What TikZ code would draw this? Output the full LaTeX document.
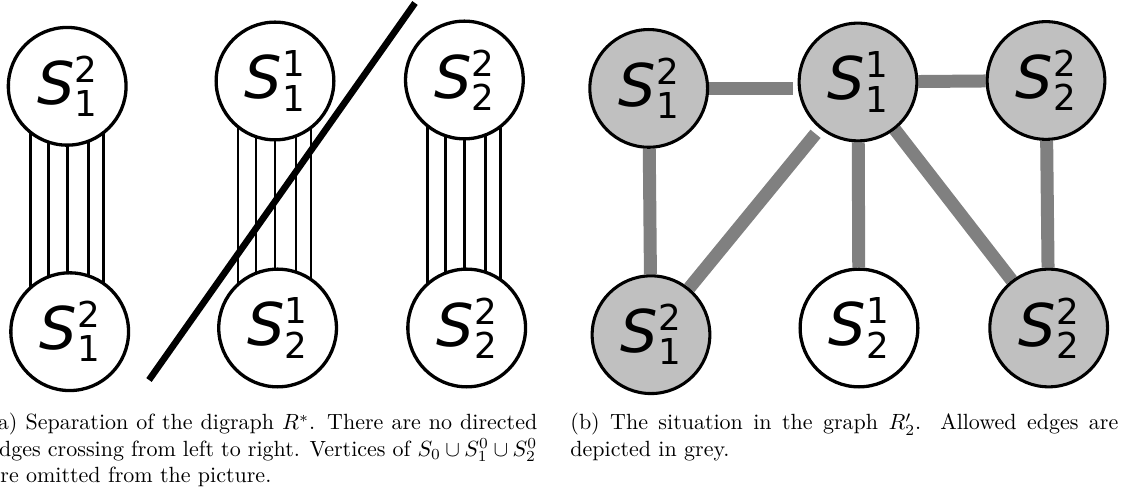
\documentclass[tikz,border=0pt]{standalone}
\usepackage{fontspec}
\newfontfamily\setfont{DejaVu Sans}
\usetikzlibrary{backgrounds,calc}
\definecolor{nodegrey}{RGB}{192,192,192}
\definecolor{edgegrey}{RGB}{128,128,128}
\newcommand{\Sset}[2]{{\setfont\fontsize{26.8pt}{30pt}\selectfont\textit{S}\fontsize{16.2pt}{18pt}\selectfont\rlap{\raisebox{10pt}{#1}}\raisebox{-5.5pt}{#2}}}

\begin{document}
\begin{tikzpicture}[x=0.4545pt,y=-0.4545pt,
  set/.style={circle,draw,line width=1.5pt,fill=white,minimum size=53.5pt,inner sep=0pt},
  allowed/.style={set,fill=nodegrey,line width=1.4pt},
  arc/.style={line width=1.3pt},
  cut/.style={line width=3pt},
  greyedge/.style={edgegrey,line width=5.9pt},
  caption/.style={text width=249pt,align=justify,inner sep=0pt,font=\normalsize}]
\useasboundingbox (0,0) rectangle (1124,494);
% (a) separation of R^*
\node[set] (a1) at (67.2,86.3) {\Sset{2}{1}};
\node[set] (a2) at (275,81) {\Sset{1}{1}};
\node[set] (a3) at (464.4,80) {\Sset{2}{2}};
\node[set] (b1) at (69.7,331.7) {\Sset{2}{1}};
\node[set] (b2) at (277.6,328) {\Sset{1}{2}};
\node[set] (b3) at (466.7,328) {\Sset{2}{2}};
\begin{scope}[on background layer]
\foreach \dx in {-37,-19,0,21,36}{
  \draw[arc] ($(a1)+(\dx,0)$) -- ($(a1|-b1)+(\dx,0)$);
  \draw[arc] ($(a2)+(\dx,0)$) -- ($(a2|-b2)+(\dx,0)$);
  \draw[arc] ($(a3)+(\dx,0)$) -- ($(a3|-b3)+(\dx,0)$);
}
\end{scope}
\coordinate (cutlo) at (149,380);
\coordinate (cuthi) at (415,3);
\draw[cut] (cutlo) -- (cuthi);
% (b) the graph R'_2
\node[allowed] (c1) at (648.7,88.4) {\Sset{2}{1}};
\node[allowed] (c2) at (858,82) {\Sset{1}{1}};
\node[allowed] (c3) at (1046,80.5) {\Sset{2}{2}};
\node[allowed] (d1) at (651,334.7) {\Sset{2}{1}};
\node[set] (d2) at (859,328) {\Sset{1}{2}};
\node[allowed] (d3) at (1048.7,328) {\Sset{2}{2}};
\begin{scope}[on background layer]
\draw[greyedge,shorten >=2pt] (c1.east) -- (c1.east-|c2.west);
\draw[greyedge] (c2) -- (c3);
\draw[greyedge] (c1) -- (d1);
\draw[greyedge,shorten <=3pt] (c2) -- (d1);
\draw[greyedge] (c2) -- (d2);
\draw[greyedge] (c2) -- (d3);
\draw[greyedge] (c3) -- (d3);
\end{scope}
% captions
\node[caption,anchor=base west] (capa) at (-11,430) {(a) Separation of the digraph $R^*$. There are no directed edges crossing from left to right. Vertices of $S_0\cup S_1^0\cup S_2^0$ are omitted from the picture.};
\node[caption,anchor=base west] (capb) at (570,430) {(b) The situation in the graph $R'_2$. Allowed edges are depicted in grey.};
\end{tikzpicture}
\end{document}
